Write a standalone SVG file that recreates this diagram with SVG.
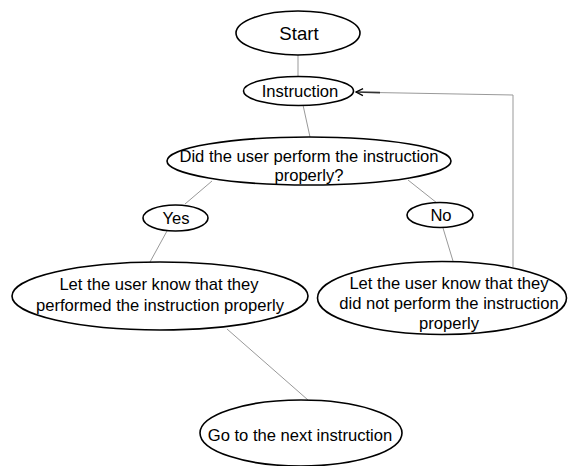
<svg xmlns="http://www.w3.org/2000/svg" width="568" height="466" viewBox="0 0 568 466">
<style>
.n{fill:#fff;stroke:#000;stroke-width:1.6}
.t{font-family:"Liberation Sans",Arial,sans-serif;font-size:16.6px;fill:#000;text-anchor:middle}
.c{fill:none;stroke:#999;stroke-width:1}
</style>
<defs>
<marker id="ah" markerWidth="12" markerHeight="10" refX="9" refY="5" orient="auto" markerUnits="userSpaceOnUse">
<path d="M2,1.5 L9,5 L2,8.5" fill="none" stroke="#000" stroke-width="1.3"/>
</marker>
</defs>
<g id="connectors">
<line class="c" x1="298" y1="55" x2="298" y2="77"/>
<line class="c" x1="303" y1="105" x2="310" y2="137"/>
<line class="c" x1="212" y1="181" x2="185" y2="204"/>
<line class="c" x1="408" y1="180" x2="437" y2="203"/>
<line class="c" x1="167" y1="231" x2="150" y2="262"/>
<line class="c" x1="443" y1="228" x2="453" y2="261"/>
<line class="c" x1="227" y1="329" x2="308" y2="400"/>
<polyline class="c" points="513,267 513,95 380,92.6"/>
<path d="M380,92.6 L356,92" fill="none" stroke="#333" stroke-width="1.6" marker-end="url(#ah)"/>
</g>
<g id="start">
<ellipse class="n" cx="298" cy="33" rx="62" ry="22"/>
<text class="t" x="299" y="40" style="font-size:18.6px">Start</text>
</g>
<g id="instruction">
<ellipse class="n" cx="298.5" cy="91" rx="55" ry="14.5"/>
<text class="t" x="300" y="97">Instruction</text>
</g>
<g id="decision">
<ellipse class="n" cx="309" cy="161" rx="142" ry="24"/>
<text class="t" x="309" y="162">Did the user perform the instruction</text>
<text class="t" x="309" y="181">properly?</text>
</g>
<g id="yes">
<ellipse class="n" cx="175.5" cy="218" rx="32.5" ry="13"/>
<text class="t" x="176" y="224">Yes</text>
</g>
<g id="no">
<ellipse class="n" cx="440" cy="215" rx="33" ry="12.5"/>
<text class="t" x="441" y="221">No</text>
</g>
<g id="positive">
<ellipse class="n" cx="160" cy="296" rx="148" ry="34"/>
<text class="t" x="159" y="290">Let the user know that they</text>
<text class="t" x="160" y="311">performed the instruction properly</text>
</g>
<g id="negative">
<ellipse class="n" cx="442" cy="298" rx="124.5" ry="36.5"/>
<text class="t" x="449" y="289">Let the user know that they</text>
<text class="t" x="449" y="309">did not perform the instruction</text>
<text class="t" x="449" y="329">properly</text>
</g>
<g id="next">
<ellipse class="n" cx="301" cy="433" rx="101" ry="33"/>
<text class="t" x="300" y="441">Go to the next instruction</text>
</g>
</svg>
